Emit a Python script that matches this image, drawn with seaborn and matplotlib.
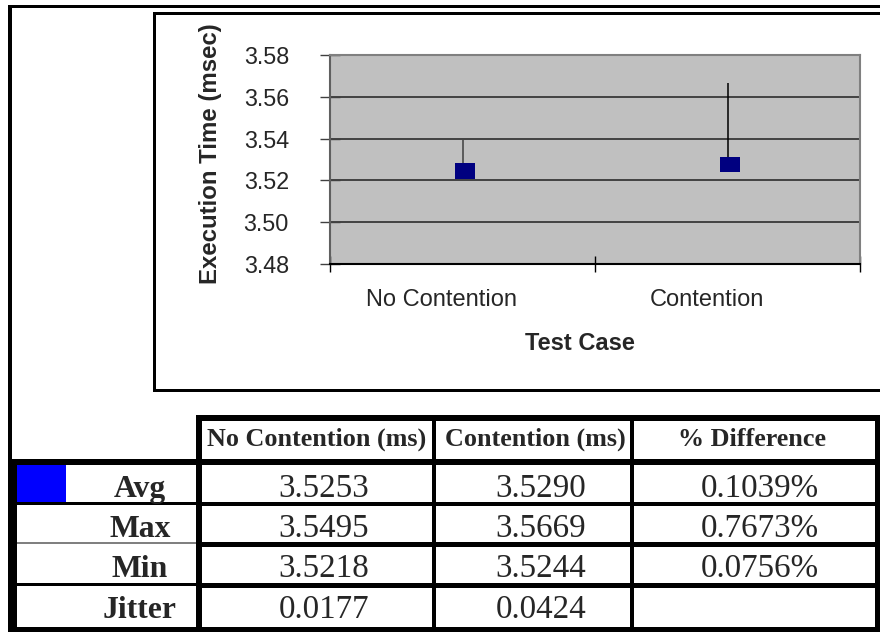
import numpy as np
import matplotlib
matplotlib.use("Agg")
import matplotlib.pyplot as plt
from matplotlib.patches import Rectangle
from matplotlib.path import Path
from matplotlib.transforms import ScaledTranslation
import seaborn as sns

# ---------------- data ----------------
categories = ["No Contention", "Contention"]
avg_plot = [3.5245, 3.5276]      # square markers as drawn
high_plot = [3.5393, 3.5665]     # top of the high-low lines as drawn
low_plot = [3.5218, 3.5244]      # bottom of the high-low lines
y_ticks = [3.48, 3.50, 3.52, 3.54, 3.56, 3.58]

table_cols = ["No Contention (ms)", "Contention (ms)", "% Difference"]
table_rows = ["Avg", "Max", "Min", "Jitter"]
col_no_contention = ["3.5253", "3.5495", "3.5218", "0.0177"]
col_contention = ["3.5290", "3.5669", "3.5244", "0.0424"]
col_difference = ["0.1039%", "0.7673%", "0.0756%", ""]

# ---------------- style ----------------
sns.set_style("white")
plt.rcParams['font.family'] = ['Liberation Sans', 'DejaVu Sans']

W, H = 880, 632
fig = plt.figure(figsize=(W / 100, H / 100), dpi=100)
fig.patch.set_facecolor("white")

# background overlay in pixel coordinates for frames and table
bg = fig.add_axes([0, 0, 1, 1])
bg.set_xlim(0, W)
bg.set_ylim(H, 0)
bg.axis("off")


def box(x0, x1, y0, y1, color="black"):
    bg.add_patch(Rectangle((x0, y0), x1 - x0, y1 - y0, facecolor=color,
                           edgecolor="none", lw=0))


# outer frame
box(8, 880, 5, 8)
box(8, 12, 5, 462)
# chart box
box(153, 880, 12, 15)
box(153, 156, 12, 392)
box(153, 880, 389, 392)

# table grid
box(196, 880, 415, 421)          # header top
box(196, 202, 415, 632)          # label column right border
box(8, 880, 459, 465)            # header bottom
box(8, 17, 459, 632)             # table left border
box(432, 436, 415, 632)
box(630, 634, 415, 632)
box(875, 880, 415, 632)
# row separators
box(196, 880, 502, 506)
box(17, 196, 502, 505)
box(196, 880, 542, 547)
box(17, 196, 542, 544, color="#808080")
box(196, 880, 583, 588)
box(17, 196, 583, 586)
box(8, 880, 627, 632)
# legend key in Avg row
box(17, 66, 465, 502, color="#0000FF")

serif = ['Liberation Serif', 'DejaVu Serif']
head_x = [317, 535, 752]
for x, t in zip(head_x, table_cols):
    bg.text(x, 446, t, ha="center", va="baseline", fontsize=18.8,
            fontweight="bold", family=serif)

row_base = [497, 537, 577, 618]
val_x = [324, 541, 760]
for i, (lab, a, b, c) in enumerate(zip(table_rows, col_no_contention,
                                       col_contention, col_difference)):
    yb = row_base[i]
    bg.text(140, yb, lab, ha="center", va="baseline", fontsize=22.8,
            fontweight="bold", family=serif)
    for x, v in zip(val_x, (a, b, c)):
        bg.text(x, yb, v, ha="center", va="baseline", fontsize=23.8,
                family=serif)

# ---------------- chart ----------------
ax = fig.add_axes([330 / W, 1 - 264 / H, 530 / W, 209 / H])
ax.set_facecolor("#C0C0C0")
pos = np.arange(len(categories)) + 0.5

# high-low lines
ax.vlines(pos, low_plot, high_plot, colors=["#404040", "black"], lw=1.1,
          zorder=2)

# rectangular markers (drawn slightly right of the line, as in the original)
rect = Path([(-1.33, -1), (1.33, -1), (1.33, 1), (-1.33, 1), (-1.33, -1)],
            [Path.MOVETO, Path.LINETO, Path.LINETO, Path.LINETO, Path.CLOSEPOLY])
sns.scatterplot(x=pos, y=avg_plot, marker=rect, s=15.1 ** 2, color="#000080",
                linewidth=0, edgecolor="none", ax=ax, zorder=3, legend=False)
mk_off = ScaledTranslation(2.5 / 100, 0, fig.dpi_scale_trans)
for coll in ax.collections[1:]:
    coll.set_offset_transform(ax.transData + mk_off)

ax.set_xlim(0, 2)
ax.set_ylim(3.48, 3.58)
ax.set_yticks(y_ticks)
ax.set_yticklabels([f"{v:.2f}" for v in y_ticks])
ax.yaxis.grid(True, color="#202020", lw=1.1)
ax.xaxis.grid(False)
ax.set_axisbelow(True)

ax.set_xticks([0, 1, 2])
ax.set_xticklabels([])
ax.set_xticks(pos, minor=True)
ax.set_xticklabels(categories, minor=True)
ax.tick_params(axis="x", which="major", direction="inout", length=11.5,
               width=1, color="black", bottom=True)
ax.tick_params(axis="x", which="minor", length=0, pad=18, labelsize=17,
               bottom=True)
ax.tick_params(axis="y", direction="inout", length=15, width=1,
               color="#404040", pad=22, labelsize=16.8, left=True)

for lbl in ax.xaxis.get_minorticklabels():
    lbl.set_transform(lbl.get_transform() +
                      ScaledTranslation(-21 / 100, 0, fig.dpi_scale_trans))

for side, col in [("left", "#606060"), ("top", "#808080"),
                  ("right", "#808080"), ("bottom", "black")]:
    ax.spines[side].set_visible(True)
    ax.spines[side].set_color(col)
    ax.spines[side].set_linewidth(1.5)

ax.set_ylabel("Execution Time (msec)", fontsize=17.3, fontweight="bold")
ax.yaxis.set_label_coords(-0.2038, 0.526)
ax.set_xlabel("Test Case", fontsize=17, fontweight="bold")
ax.xaxis.set_label_coords(0.4717, -0.325)

fig.savefig("out.png", dpi=100, facecolor="white")
